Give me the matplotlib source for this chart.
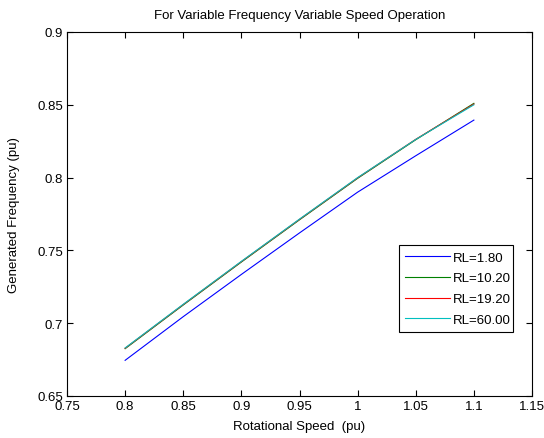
import matplotlib
matplotlib.use("Agg")
import matplotlib.pyplot as plt
from matplotlib.ticker import FuncFormatter

plt.rcParams["font.family"] = ["Liberation Sans", "DejaVu Sans"]

# rotational speed (pu)
speed = [0.8, 0.85, 0.9, 0.95, 1.0, 1.05, 1.1]

# generated frequency (pu) for each load resistance
rl_180 = [0.6745, 0.7045, 0.7335, 0.7620, 0.7900, 0.8150, 0.8395]
rl_1020 = [0.6825, 0.7125, 0.7420, 0.7710, 0.7995, 0.8260, 0.8510]
rl_1920 = [0.6828, 0.7128, 0.7423, 0.7713, 0.7998, 0.8263, 0.8505]
rl_6000 = [0.6830, 0.7130, 0.7425, 0.7715, 0.8000, 0.8262, 0.8500]

labels = ["RL=1.80", "RL=10.20", "RL=19.20", "RL=60.00"]
colors = ["#0000ff", "#008000", "#ff0000", "#00bfbf"]

xticks = [0.75, 0.8, 0.85, 0.9, 0.95, 1.0, 1.05, 1.1, 1.15]
yticks = [0.65, 0.7, 0.75, 0.8, 0.85, 0.9]

fig = plt.figure(figsize=(5.44, 4.39), dpi=100)
ax = fig.add_axes([67 / 544, 1 - 397 / 439, 465 / 544, 364 / 439])

for ys, lab, c in zip([rl_180, rl_1020, rl_1920, rl_6000], labels, colors):
    ax.plot(speed, ys, color=c, lw=0.8, label=lab)

ax.set_xlim(0.75, 1.15)
ax.set_ylim(0.65, 0.9)
ax.set_xticks(xticks)
ax.set_yticks(yticks)
fmt = FuncFormatter(lambda v, p: f"{v:g}")
ax.xaxis.set_major_formatter(fmt)
ax.yaxis.set_major_formatter(fmt)
ax.tick_params(direction="in", length=4, width=0.8, top=True, right=True,
               labelsize=9.5)
ax.tick_params(axis="x", pad=3)
ax.tick_params(axis="y", pad=3)
for s in ax.spines.values():
    s.set_linewidth(0.8)

ax.set_title("For Variable Frequency Variable Speed Operation", fontsize=9.5, pad=10)
ax.set_xlabel("Rotational Speed  (pu)", fontsize=9.5, labelpad=6)
ax.set_ylabel("Generated Frequency (pu)", fontsize=9.5, labelpad=12)

leg = ax.legend(loc="lower left", bbox_to_anchor=(0.714, 0.176, 0.245, 0.231),
                mode="expand", borderaxespad=0, fontsize=9.5, handlelength=3.4,
                handletextpad=0.2, labelspacing=0.65, borderpad=0.45,
                fancybox=False, framealpha=1, edgecolor="black")
leg.get_frame().set_linewidth(0.8)

fig.savefig("out.png", dpi=100)
